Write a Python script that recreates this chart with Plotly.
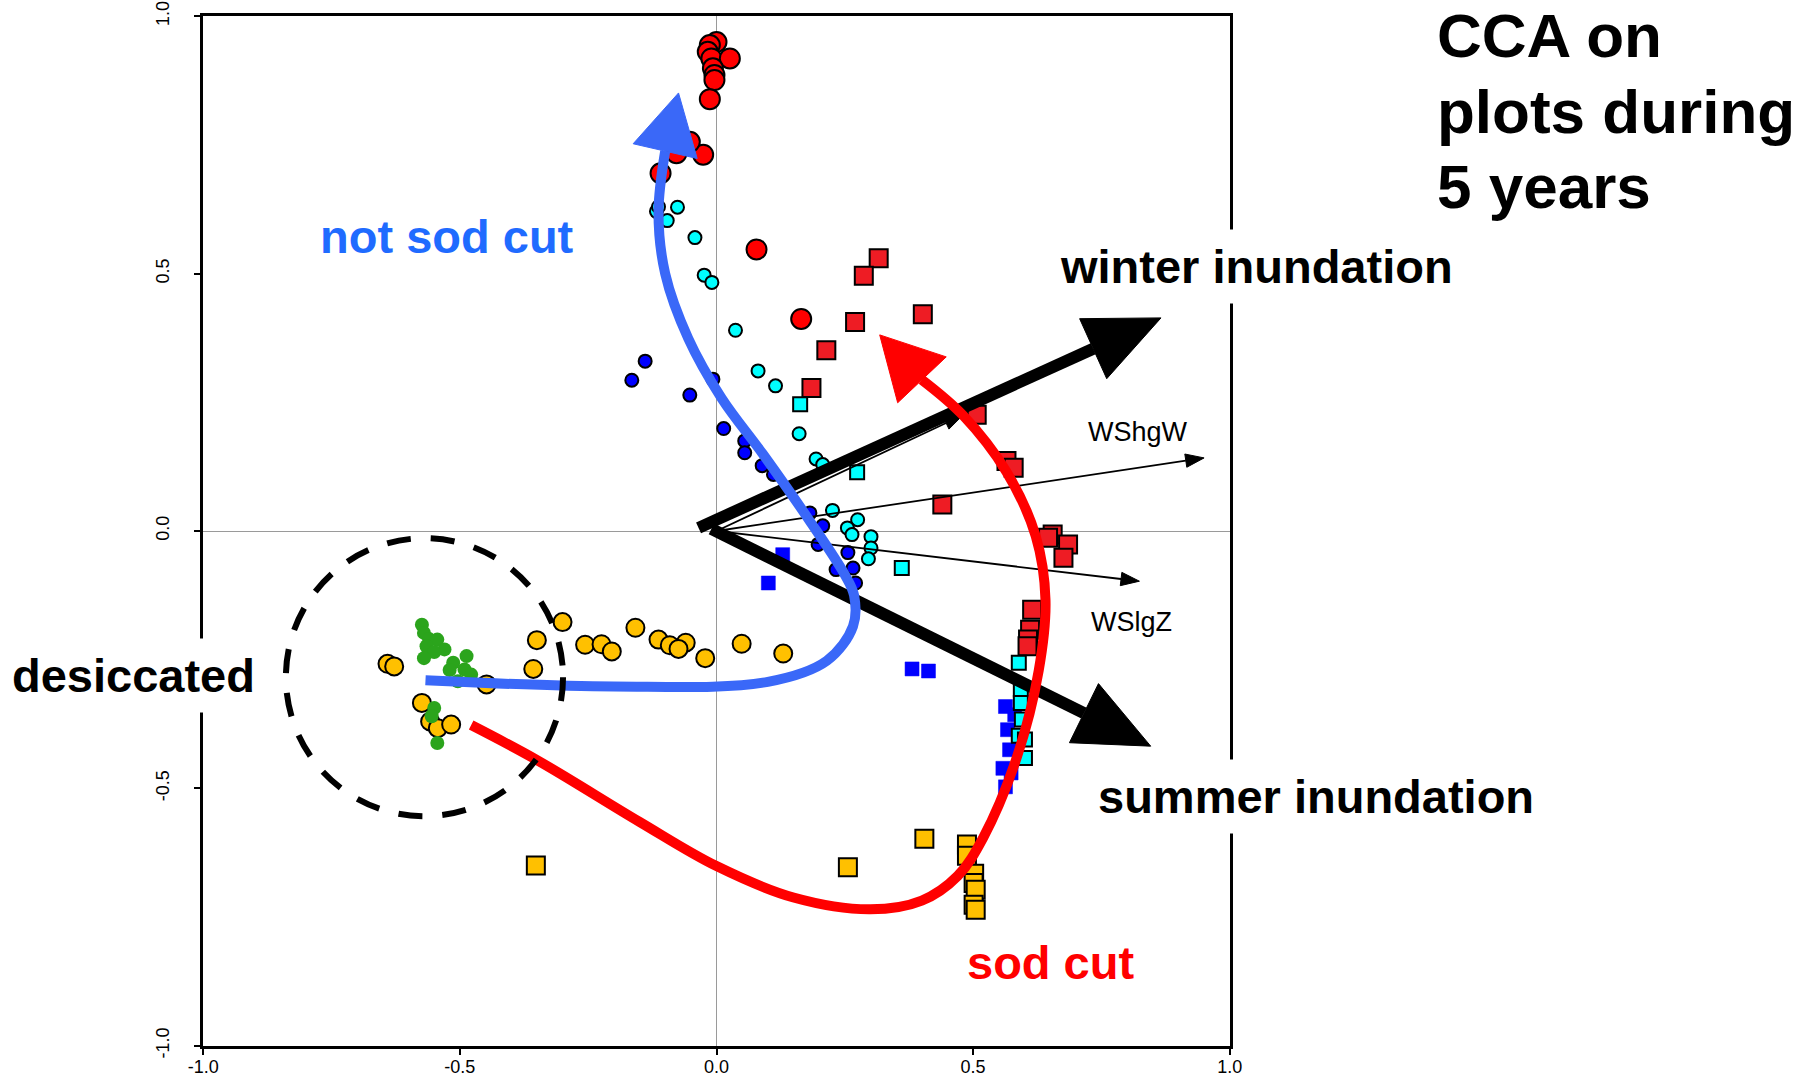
import numpy as np
import plotly.graph_objects as go

# ---------------- data ----------------
red_circ_x = [0.0, -0.013, -0.017, -0.010, 0.026, -0.007, -0.004, -0.004, -0.013, -0.026, -0.052, -0.078, -0.109, 0.078, 0.165]
red_circ_y = [0.950, 0.944, 0.931, 0.918, 0.918, 0.899, 0.886, 0.876, 0.839, 0.731, 0.756, 0.734, 0.695, 0.547, 0.412]

cyan_circ_x = [-0.117, -0.113, -0.076, -0.096, -0.042, -0.024, -0.009, 0.037, 0.081, 0.115, 0.161, 0.194, 0.207, 0.226, 0.275, 0.255, 0.264, 0.301, 0.301, 0.296]
cyan_circ_y = [0.621, 0.630, 0.629, 0.603, 0.570, 0.497, 0.483, 0.390, 0.311, 0.282, 0.189, 0.140, 0.129, 0.040, 0.022, 0.006, -0.007, -0.011, -0.033, -0.054]

blue_circ_x = [-0.139, -0.165, -0.052, -0.007, 0.014, 0.055, 0.055, 0.089, 0.111, 0.182, 0.198, 0.207, 0.256, 0.233, 0.266, 0.271]
blue_circ_y = [0.330, 0.293, 0.264, 0.295, 0.199, 0.175, 0.152, 0.127, 0.110, 0.035, -0.026, 0.010, -0.042, -0.075, -0.072, -0.101]

orange_circ_x = [-0.300, -0.350, -0.256, -0.224, -0.204, -0.158, -0.113, -0.091, -0.060, -0.074, -0.022, 0.049, 0.130, -0.357, -0.448, -0.641, -0.628, -0.574, -0.558, -0.543, -0.517]
orange_circ_y = [-0.177, -0.212, -0.221, -0.220, -0.234, -0.188, -0.211, -0.222, -0.217, -0.229, -0.247, -0.219, -0.238, -0.268, -0.298, -0.258, -0.263, -0.334, -0.370, -0.383, -0.376]

green_circ_x = [-0.574, -0.570, -0.560, -0.544, -0.565, -0.530, -0.550, -0.570, -0.487, -0.513, -0.491, -0.520, -0.478, -0.504, -0.550, -0.555, -0.544]
green_circ_y = [-0.182, -0.198, -0.210, -0.211, -0.224, -0.230, -0.235, -0.247, -0.243, -0.256, -0.269, -0.270, -0.279, -0.292, -0.344, -0.360, -0.412]

red_sq_x = [0.316, 0.287, 0.402, 0.270, 0.214, 0.185, 0.507, 0.565, 0.579, 0.440, 0.655, 0.646, 0.685, 0.676, 0.615, 0.611, 0.607, 0.606]
red_sq_y = [0.530, 0.496, 0.421, 0.406, 0.351, 0.278, 0.226, 0.136, 0.123, 0.0515, -0.007, -0.013, -0.026, -0.052, -0.153, -0.192, -0.211, -0.224]

cyan_sq_x = [0.163, 0.274, 0.361, 0.589, 0.593, 0.593, 0.595, 0.589, 0.601, 0.601]
cyan_sq_y = [0.246, 0.114, -0.072, -0.256, -0.308, -0.334, -0.366, -0.398, -0.405, -0.441]

blue_sq_x = [0.101, 0.129, 0.381, 0.413, 0.563, 0.581, 0.567, 0.571, 0.558, 0.574, 0.563]
blue_sq_y = [-0.101, -0.046, -0.268, -0.272, -0.341, -0.357, -0.386, -0.425, -0.461, -0.470, -0.497]

orange_sq_x = [-0.352, 0.256, 0.405, 0.488, 0.488, 0.502, 0.501, 0.505, 0.501, 0.505]
orange_sq_y = [-0.650, -0.653, -0.598, -0.609, -0.631, -0.666, -0.684, -0.697, -0.726, -0.736]

# environmental (biplot) vectors
env_names = ["WShgW", "WSlgZ", ""]
env_x = [0.950, 0.824, 0.480]
env_y = [0.142, -0.0975, 0.225]
env_label_x = [0.820, 0.809]
env_label_y = [0.193, -0.176]

# interpretive thick arrows: start and tip
thick_names = ["winter inundation", "summer inundation"]
thick_x0 = [-0.035, -0.010]
thick_y0 = [0.006, 0.004]
thick_x1 = [0.866, 0.846]
thick_y1 = [0.414, -0.418]

# trajectory curves (control points)
blue_curve_x = [-0.567, -0.20, 0.10, 0.215, 0.266, 0.268, 0.250, 0.180, 0.090, 0.010, -0.055, -0.100, -0.113, -0.100]
blue_curve_y = [-0.290, -0.302, -0.293, -0.252, -0.185, -0.125, -0.085, 0.022, 0.150, 0.258, 0.374, 0.500, 0.620, 0.738]
blue_tip = (-0.074, 0.851)

red_curve_x = [-0.478, -0.348, -0.150, 0.0, 0.150, 0.300, 0.400, 0.470, 0.520, 0.585, 0.628, 0.641, 0.622, 0.565, 0.480, 0.400]
red_curve_y = [-0.377, -0.446, -0.565, -0.651, -0.712, -0.735, -0.718, -0.670, -0.595, -0.440, -0.270, -0.134, -0.010, 0.115, 0.225, 0.294]
red_tip = (0.318, 0.381)

# dashed circle around the desiccated plots
circle_cx, circle_cy, circle_r = -0.569, -0.284, 0.270

tick_vals = [-1.0, -0.5, 0.0, 0.5, 1.0]
tick_text = ["-1.0", "-0.5", "0.0", "0.5", "1.0"]

FONT = "Liberation Sans, Arial, sans-serif"

fig = go.Figure()


def pts(xs, ys, symbol, size, color, lw=2.0, lc="black"):
    fig.add_trace(go.Scatter(
        x=xs, y=ys, mode="markers", hoverinfo="skip", showlegend=False,
        marker=dict(symbol=symbol, size=size, color=color,
                    line=dict(width=lw, color=lc))))


def head(tip, frm, length, width, color):
    tip = np.array(tip, float)
    frm = np.array(frm, float)
    d = tip - frm
    d = d / np.linalg.norm(d)
    n = np.array([-d[1], d[0]])
    base = tip - d * length
    p1 = base + n * width / 2
    p2 = base - n * width / 2
    fig.add_trace(go.Scatter(
        x=[tip[0], p1[0], p2[0], tip[0]], y=[tip[1], p1[1], p2[1], tip[1]],
        mode="lines", fill="toself", fillcolor=color,
        line=dict(width=1, color=color), hoverinfo="skip", showlegend=False))
    return base


def to_paper(v):
    return (v + 1.0) / 2.0


# points
pts(orange_sq_x, orange_sq_y, "square", 18, "#ffc000")
pts(red_sq_x, red_sq_y, "square", 18, "#ee1c24")
pts(blue_sq_x, blue_sq_y, "square", 14, "#0000ff", 0.5, "#0000ff")
pts(cyan_sq_x, cyan_sq_y, "square", 14, "#00ffff")
pts(orange_circ_x, orange_circ_y, "circle", 18, "#ffc000")
pts(green_circ_x, green_circ_y, "circle", 14, "#2ba41c", 0, "#2ba41c")
pts(blue_circ_x, blue_circ_y, "circle", 13, "#0000ff")
pts(cyan_circ_x, cyan_circ_y, "circle", 13, "#00ffff")
pts(red_circ_x, red_circ_y, "circle", 20, "#ff0000")

# thin environmental arrows
for ex, ey in zip(env_x, env_y):
    b = head((ex, ey), (0, 0), 0.036, 0.026, "black")
    fig.add_trace(go.Scatter(x=[0, b[0]], y=[0, b[1]], mode="lines",
                             line=dict(color="black", width=1.8),
                             hoverinfo="skip", showlegend=False))

# thick black arrows
for x0, y0, x1, y1 in zip(thick_x0, thick_y0, thick_x1, thick_y1):
    b = head((x1, y1), (x0, y0), 0.145, 0.128, "black")
    fig.add_trace(go.Scatter(x=[x0, b[0]], y=[y0, b[1]], mode="lines",
                             line=dict(color="black", width=12),
                             hoverinfo="skip", showlegend=False))

# trajectory curves
BLUE = "#3a68f8"
fig.add_trace(go.Scatter(x=blue_curve_x, y=blue_curve_y, mode="lines",
                         line=dict(color=BLUE, width=10, shape="spline", smoothing=1.0),
                         hoverinfo="skip", showlegend=False))
head(blue_tip, (blue_curve_x[-1], blue_curve_y[-1]), 0.116, 0.128, BLUE)

fig.add_trace(go.Scatter(x=red_curve_x, y=red_curve_y, mode="lines",
                         line=dict(color="#ff0000", width=10, shape="spline", smoothing=1.0),
                         hoverinfo="skip", showlegend=False))
head(red_tip, (red_curve_x[-1], red_curve_y[-1]), 0.12, 0.13, "#ff0000")

# dashed circle
fig.add_shape(type="circle", xref="x", yref="y",
              x0=circle_cx - circle_r, x1=circle_cx + circle_r,
              y0=circle_cy - circle_r, y1=circle_cy + circle_r,
              line=dict(color="black", width=6, dash="24px,20px"))

# labels (positions given in axis units, converted to paper units so that
# labels outside the axis range are still drawn)
big = dict(family=FONT, size=47, color="black")
anns = [
    dict(x=1.051, y=0.513, text="<b>winter inundation</b>", font=big, bgcolor="white", borderpad=10),
    dict(x=1.168, y=-0.515, text="<b>summer inundation</b>", font=big, bgcolor="white", borderpad=10),
    dict(x=-1.135, y=-0.281, text="<b>desiccated</b>", font=big, bgcolor="white", borderpad=10),
    dict(x=-0.524, y=0.572, text="<b>not sod cut</b>", font=dict(family=FONT, size=47, color="#1f6bff")),
    dict(x=0.651, y=-0.838, text="<b>sod cut</b>", font=dict(family=FONT, size=47, color="#ff0000")),
]
for nm, lx, ly in zip(env_names[:2], env_label_x, env_label_y):
    anns.append(dict(x=lx, y=ly, text=nm, font=dict(family=FONT, size=27, color="black")))
title_lines = ["CCA on", "plots during", "5 years"]
title_y = [0.963, 0.815, 0.668]
for t, ty in zip(title_lines, title_y):
    anns.append(dict(x=1.400, y=ty, text="<b>%s</b>" % t, xanchor="left",
                     font=dict(family=FONT, size=62, color="black")))
for a in anns:
    a["x"] = to_paper(a["x"])
    a["y"] = to_paper(a["y"])
    a["xref"] = "paper"
    a["yref"] = "paper"
    a.setdefault("xanchor", "center")
    a.setdefault("yanchor", "middle")
    a.setdefault("showarrow", False)
    fig.add_annotation(**a)

axis_common = dict(range=[-1.0005, 1.0005], showgrid=False, zeroline=True, zerolinecolor="#9a9a9a",
                   zerolinewidth=1, showline=True, linecolor="black", linewidth=2.5,
                   mirror=True, ticks="outside", ticklen=6, tickwidth=2, tickcolor="black",
                   tickvals=tick_vals, ticktext=tick_text, ticklabeloverflow="allow",
                   automargin=False,
                   tickfont=dict(family=FONT, size=18, color="black"))
fig.update_xaxes(**axis_common, ticklabelstandoff=-3)
fig.update_yaxes(**axis_common, tickangle=-90, ticklabelstandoff=18)

fig.update_layout(width=1816, height=1081, autosize=False,
                  margin=dict(l=203, r=586, t=16, b=35, pad=0),
                  paper_bgcolor="white", plot_bgcolor="white", showlegend=False)

fig.write_html("out.html")
